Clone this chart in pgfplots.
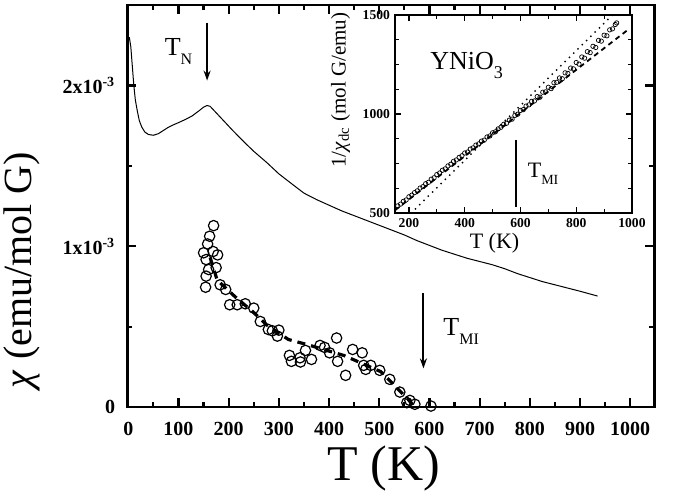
\documentclass[border=0pt]{standalone}
\usepackage{fontspec}
\setmainfont{Liberation Serif}
\usepackage{pgfplots}
\pgfplotsset{compat=1.18}
\usetikzlibrary{arrows.meta}
\begin{document}
\begin{tikzpicture}
\useasboundingbox (-63.65pt,-44pt) rectangle (272.85pt,203.5pt);
% main panel: chi(T)
\begin{axis}[
  at={(0,0)}, anchor=south west,
  scale only axis, width=263.5pt, height=201pt,
  xmin=-2, xmax=1048, ymin=0, ymax=2.5e-3,
  xtick={0,100,...,1000}, minor x tick num=1,
  ytick={0,0.001,0.002},
  yticklabels={0,1x10\textsuperscript{-3},2x10\textsuperscript{-3}},
  minor y tick num=1,
  scaled y ticks=false,
  tick align=inside, xtick pos=both, ytick pos=both,
  major tick length=4.5pt, minor tick length=2.5pt,
  axis line style={line width=1.4pt},
  every tick/.style={black, line width=1.1pt},
  /pgf/number format/assume math mode=true,
  /pgf/number format/1000 sep={},
  tick label style={font=\fontsize{10}{12}\selectfont\bfseries},
  xticklabel style={yshift=-4pt},
  yticklabel style={xshift=-2.5pt},
  xlabel={T (K)},
  x label style={font=\fontsize{25}{30}\selectfont, at={(axis description cs:0.487,-0.152)}, anchor=center},
  ylabel={\textit{χ} (emu/mol G)},
  y label style={font=\fontsize{20}{24}\selectfont, at={(axis description cs:-0.2,0.34)}, anchor=center},
]
\addplot[black, line width=0.5pt] coordinates {
(2,2.30e-3) (5,2.24e-3) (8,2.12e-3) (11,2.00e-3) (14,1.91e-3) (18,1.84e-3)
(22,1.78e-3) (27,1.74e-3) (33,1.71e-3) (40,1.695e-3) (50,1.69e-3) (60,1.70e-3)
(70,1.72e-3) (80,1.74e-3) (90,1.755e-3) (101,1.77e-3) (115,1.79e-3) (127,1.81e-3)
(140,1.84e-3) (150,1.865e-3) (157,1.875e-3) (163,1.87e-3) (175,1.83e-3) (190,1.78e-3)
(208,1.72e-3) (230,1.65e-3) (250,1.59e-3) (276,1.52e-3) (300,1.45e-3) (329,1.38e-3)
(350,1.33e-3) (375,1.29e-3) (400,1.255e-3) (425,1.22e-3) (450,1.19e-3) (475,1.16e-3)
(500,1.13e-3) (525,1.10e-3) (550,1.07e-3) (575,1.035e-3) (600,1.005e-3) (625,0.975e-3)
(650,0.95e-3) (675,0.925e-3) (700,0.905e-3) (725,0.885e-3) (750,0.86e-3) (775,0.83e-3)
(800,0.805e-3) (825,0.78e-3) (850,0.76e-3) (875,0.74e-3) (900,0.72e-3) (935,0.69e-3)
};
\addplot[only marks, mark=o, mark size=2.6pt, mark options={line width=0.6pt}] coordinates {
(170,1.128e-3) (162,1.062e-3) (158,1.014e-3) (150,0.959e-3) (169,0.967e-3) (178,0.946e-3)
(155,0.917e-3) (160,0.855e-3) (175,0.867e-3) (155,0.814e-3) (154,0.745e-3) (183,0.760e-3)
(194,0.731e-3) (202,0.636e-3) (217,0.636e-3) (233,0.642e-3) (250,0.615e-3) (263,0.532e-3)
(279,0.482e-3) (287,0.474e-3) (300,0.478e-3) (297,0.441e-3) (321,0.321e-3) (325,0.284e-3)
(342,0.306e-3) (343,0.280e-3) (353,0.352e-3) (365,0.296e-3) (382,0.383e-3) (391,0.371e-3)
(401,0.337e-3) (415,0.429e-3) (417,0.284e-3) (433,0.197e-3) (447,0.358e-3) (466,0.337e-3)
(469,0.259e-3) (473,0.234e-3) (483,0.259e-3) (501,0.228e-3) (521,0.172e-3) (541,0.093e-3)
(561,0.041e-3) (571,0.017e-3) (555,0.027e-3) (603,0.006e-3)
};
\addplot[black, line width=1.6pt, dash pattern=on 4pt off 3pt] coordinates {
(163,0.93e-3) (177,0.79e-3) (213,0.685e-3) (249,0.59e-3) (276,0.51e-3) (319,0.42e-3)
(360,0.385e-3) (430,0.32e-3) (503,0.22e-3) (557,0.05e-3) (570,0)
};
\draw[line width=1pt, -{Stealth[length=5pt,width=3.5pt]}] (axis cs:157,2.39e-3) -- (axis cs:157,2.03e-3);
\node[anchor=west, font=\fontsize{13}{15}\selectfont, inner sep=0pt] at (axis cs:72,2.21e-3) {T\raisebox{-0.7ex}{\fontsize{8}{8}\selectfont N}};
\draw[line width=1pt, -{Stealth[length=5pt,width=3.5pt]}] (axis cs:588,0.706e-3) -- (axis cs:588,0.24e-3);
\node[anchor=west, font=\fontsize{13}{15}\selectfont, inner sep=0pt] at (axis cs:627,0.47e-3) {T\raisebox{-0.7ex}{\fontsize{8}{8}\selectfont MI}};
\end{axis}
% inset: inverse susceptibility
\begin{axis}[
  at={(133.85pt,97pt)}, anchor=south west,
  scale only axis, width=118.5pt, height=99pt,
  axis background/.style={fill=white},
  xmin=150, xmax=1000, ymin=500, ymax=1500,
  xtick={200,400,...,1000}, minor x tick num=1,
  ytick={500,1000,1500}, minor y tick num=3,
  tick align=inside, xtick pos=both, ytick pos=both,
  major tick length=3pt, minor tick length=1.8pt,
  axis line style={line width=0.8pt},
  every tick/.style={black, line width=0.6pt},
  /pgf/number format/assume math mode=true,
  /pgf/number format/1000 sep={},
  tick label style={font=\fontsize{6.8}{8}\selectfont\bfseries},
  xticklabel style={yshift=1pt},
  yticklabel style={xshift=1pt},
  xlabel={T (K)},
  x label style={font=\fontsize{11}{13}\selectfont, at={(axis description cs:0.42,-0.15)}, anchor=center},
  ylabel={1/\textit{χ}\textsubscript{dc} (mol G/emu)},
  y label style={font=\fontsize{10.5}{12}\selectfont, at={(axis description cs:-0.23,0.62)}, anchor=center},
]
\addplot[only marks, mark=o, mark size=1.1pt, mark options={line width=0.35pt}] coordinates {
(160,536) (170,545) (180,559) (190,566) (200,582) (210,590) (220,603) (230,612)
(240,626) (250,633) (260,648) (270,655) (280,671) (290,678) (300,694) (310,702)
(320,716) (330,723) (340,738) (350,746) (360,761) (370,768) (380,781) (390,789)
(400,803) (410,808) (420,823) (430,829) (440,843) (450,849) (460,863) (470,868)
(480,884) (490,889) (500,905) (510,910) (520,925) (530,933) (540,948) (550,953)
(560,969) (570,974) (580,993) (590,999) (600,1018) (610,1022) (620,1040) (630,1046)
(640,1064) (650,1066) (660,1088) (670,1085) (680,1110) (690,1112) (700,1135) (710,1128)
(720,1158) (730,1160) (740,1182) (750,1178) (760,1208) (770,1205) (780,1232) (790,1228)
(800,1260) (810,1252) (820,1288) (830,1282) (840,1315) (850,1310) (860,1342) (870,1336)
(880,1372) (890,1368) (900,1398) (910,1395) (920,1425) (930,1430) (940,1452) (945,1460)
};
\addplot[black, line width=0.9pt, dash pattern=on 2.5pt off 2pt] coordinates {(150,514) (985,1425)};
\addplot[black, line width=1pt, line cap=round, dash pattern=on 0pt off 3pt] coordinates {(208,500) (930,1500)};
\draw[line width=0.9pt] (axis cs:585,532) -- (axis cs:585,868);
\node[anchor=west, font=\fontsize{11}{13}\selectfont, inner sep=0pt] at (axis cs:625,700) {T\raisebox{-0.7ex}{\fontsize{7}{7}\selectfont MI}};
\node[anchor=west, font=\fontsize{13}{15}\selectfont, inner sep=0pt] at (axis cs:275,1245) {YNiO\raisebox{-0.8ex}{\fontsize{9}{9}\selectfont 3}};
\end{axis}
\end{tikzpicture}
\end{document}
